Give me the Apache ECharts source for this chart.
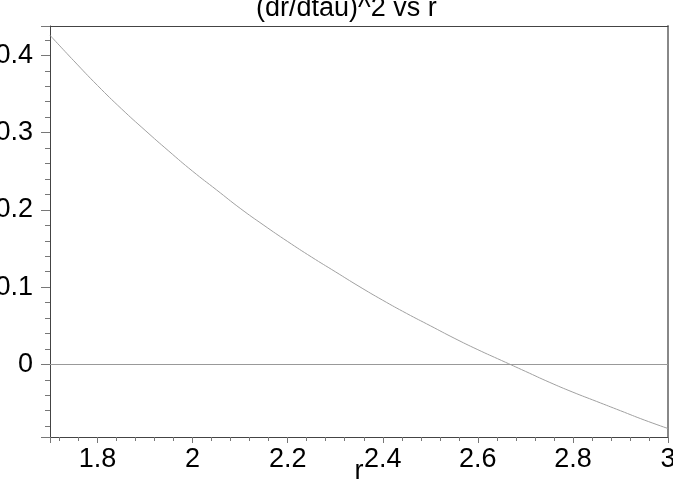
<!DOCTYPE html>
<html>
<head>
<meta charset="utf-8">
<script src="https://cdn.jsdelivr.net/npm/echarts@6/dist/echarts.min.js"></script>
<style>
  html, body { margin: 0; padding: 0; background: #fff; }
  #chart { width: 673px; height: 487px; }
</style>
</head>
<body>
<div id="chart"></div>
<script>
// r values and (dr/dtau)^2
const rValues = [1.70, 1.75, 1.80, 1.85, 1.90, 1.95, 2.00, 2.05, 2.10, 2.15, 2.20, 2.25, 2.30, 2.35,
  2.40, 2.45, 2.50, 2.55, 2.60, 2.65, 2.70, 2.75, 2.80, 2.85, 2.90, 2.95, 3.00];
const drdtau2 = [0.426, 0.393, 0.361, 0.331, 0.303, 0.276, 0.250, 0.226, 0.202, 0.180, 0.159, 0.139, 0.120, 0.101,
  0.083, 0.066, 0.050, 0.034, 0.019, 0.005, -0.009, -0.023, -0.036, -0.048, -0.060, -0.072, -0.083];
const xRange = [1.7, 3];
const yRange = [-0.094, 0.438];
const xTickLabels = ['1.8', '2', '2.2', '2.4', '2.6', '2.8', '3'];
const yTickLabels = ['0', '0.1', '0.2', '0.3', '0.4'];

const font = 'Liberation Sans, Arial, Helvetica, sans-serif';
const fontSize = 27;
const myChart = echarts.init(document.getElementById('chart'), null, { renderer: 'canvas' });

const fmt = (list) => (v) => {
  const s = String(Math.round(v * 1000) / 1000);
  return list.indexOf(s) >= 0 ? s : '';
};

const option = {
  animation: false,
  title: {
    text: '(dr/dtau)^2 vs r',
    left: 256,
    top: -5,
    padding: 0,
    textStyle: { fontFamily: font, fontSize: fontSize, fontWeight: 'normal', color: '#000' }
  },
  grid: { left: 50, right: 5, top: 26, bottom: 50, containLabel: false, outerBoundsMode: 'none' },
  xAxis: [
    {
      type: 'value',
      min: xRange[0],
      max: xRange[1],
      splitNumber: 6,
      name: 'r',
      nameLocation: 'middle',
      nameGap: 21,
      nameMoveOverlap: false,
      nameTextStyle: { fontFamily: font, fontSize: fontSize, color: '#000' },
      axisLine: { onZero: false, lineStyle: { color: '#444', width: 1 } },
      axisTick: { show: true, inside: false, length: 6, lineStyle: { color: '#777' } },
      minorTick: { show: true, splitNumber: 5, length: 4, lineStyle: { color: '#777' } },
      axisLabel: {
        fontFamily: font, fontSize: fontSize, color: '#000', margin: 9,
        showMinLabel: false, formatter: fmt(xTickLabels)
      },
      splitLine: { show: false }
    },
    {
      type: 'value',
      position: 'top',
      min: xRange[0],
      max: xRange[1],
      axisLine: { show: true, onZero: false, lineStyle: { color: '#444', width: 1 } },
      axisTick: { show: false },
      axisLabel: { show: false },
      splitLine: { show: false }
    }
  ],
  yAxis: [
    {
      type: 'value',
      min: yRange[0],
      max: yRange[1],
      splitNumber: 5,
      axisLine: { show: true, onZero: false, lineStyle: { color: '#444', width: 1 } },
      axisTick: { show: true, inside: false, length: 9, lineStyle: { color: '#777' } },
      minorTick: { show: true, splitNumber: 5, length: 5, lineStyle: { color: '#777' } },
      axisLabel: {
        fontFamily: font, fontSize: fontSize, color: '#000', margin: 17,
        padding: [6, 0, 0, 0],
        showMinLabel: false, showMaxLabel: false, formatter: fmt(yTickLabels)
      },
      splitLine: { show: false }
    },
    {
      type: 'value',
      position: 'right',
      min: yRange[0],
      max: yRange[1],
      axisLine: { show: true, onZero: false, lineStyle: { color: '#888', width: 2 } },
      axisTick: { show: false },
      axisLabel: { show: false },
      splitLine: { show: false }
    }
  ],
  series: [
    {
      type: 'line',
      data: rValues.map((r, i) => [r, drdtau2[i]]),
      smooth: true,
      showSymbol: false,
      lineStyle: { color: '#a0a0a0', width: 1 },
      markLine: {
        silent: true,
        symbol: 'none',
        label: { show: false },
        lineStyle: { color: '#999', width: 1, type: 'solid' },
        data: [{ yAxis: 0 }]
      }
    }
  ]
};

myChart.setOption(option);
</script>
</body>
</html>
